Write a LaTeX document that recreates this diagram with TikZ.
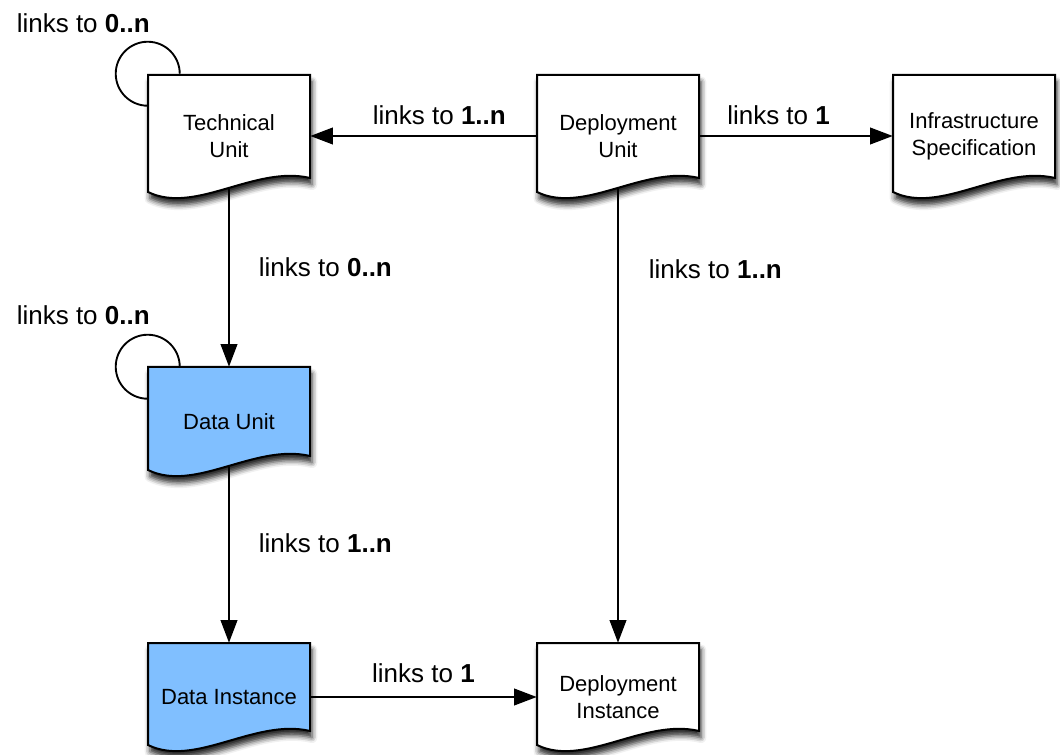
\documentclass[tikz,border=0pt]{standalone}
\usepackage{fontspec}
\setmainfont{Liberation Sans}
\usetikzlibrary{arrows.meta,shadows.blur}
\definecolor{unitblue}{RGB}{128,191,255}
\tikzset{
  docshape/.style={draw=black, line width=1.5pt, fill=white,
    blur shadow={shadow xshift=1.5pt, shadow yshift=-5pt, shadow blur radius=4pt, shadow opacity=85}},
  doctext/.style={inner sep=0pt, align=center, minimum width=121.5pt, font=\fontsize{16.5}{20.25}\selectfont},
  link/.style={line width=1.4pt, draw opacity=1, fill opacity=1,
    -{Triangle[length=17pt,width=12.5pt,fill=black]}},
  downlink/.style={link, shorten <=-7pt},
  loopline/.style={line width=1.4pt, draw opacity=1},
  lbl/.style={inner sep=0pt, font=\fontsize{19.5}{23}\selectfont},
}

\begin{document}
\begin{tikzpicture}[x=0.75pt,y=0.75pt,yscale=-1,xscale=1]
\useasboundingbox (0,0) rectangle (1060,755);

%Document: Technical Unit
\draw[docshape] (148,75) -- (310,75) -- (310,178) .. controls (255,165) and (195,215) .. (148,192) -- cycle;
%Document: Deployment Unit
\draw[docshape] (537,75) -- (699,75) -- (699,178) .. controls (644,165) and (584,215) .. (537,192) -- cycle;
%Document: Infrastructure Specification
\draw[docshape] (893,75) -- (1055,75) -- (1055,178) .. controls (1000,165) and (940,215) .. (893,192) -- cycle;
%Document: Data Unit
\draw[docshape, fill=unitblue] (148,367) -- (310,367) -- (310,456) .. controls (255,443) and (195,493) .. (148,470) -- cycle;
%Document: Data Instance
\draw[docshape, fill=unitblue] (148,643) -- (310,643) -- (310,731) .. controls (255,718) and (195,768) .. (148,745) -- cycle;
%Document: Deployment Instance
\draw[docshape] (537,643) -- (699,643) -- (699,731) .. controls (644,718) and (584,768) .. (537,745) -- cycle;

% Text Nodes
\node[doctext, minimum height=93pt] (tech) at (229,136) {Technical\\Unit};
\node[doctext, minimum height=93pt] (dep) at (618,136) {Deployment\\Unit};
\node[doctext, minimum height=93pt] (infra) at (974,136) {Infrastructure\\Specification};
\node[doctext, minimum height=81.75pt] (dunit) at (229,421.5) {Data Unit};
\node[doctext, minimum height=81pt] (dinst) at (229,697) {Data Instance};
\node[doctext, minimum height=81pt] (depinst) at (618,697) {Deployment\\Instance};

% Loop labels
\node[lbl, anchor=base east] (techloop) at (150,33) {links to \textbf{0..n}};
\node[lbl, anchor=base east] (dunitloop) at (150,325) {links to \textbf{0..n}};

% Self loops
\draw[loopline] ([xshift=24pt]tech.north west) arc[start angle=0, end angle=-270, radius=32];
\draw[loopline] ([xshift=24pt]dunit.north west) arc[start angle=0, end angle=-270, radius=32];

% Links
\draw[link] (dep.west) -- node[lbl, pos=0.43, anchor=south, inner ysep=8pt] {links to \textbf{1..n}} (tech.east);
\draw[link] (dep.east) -- node[lbl, pos=0.41, anchor=south, inner ysep=8pt] {links to \textbf{1}} (infra.west);
\draw[downlink] (tech.south) -- node[lbl, pos=0.41, anchor=west, inner xsep=21.75pt] {links to \textbf{0..n}} (dunit.north);
\draw[downlink] (dep.south) -- node[lbl, pos=0.16, anchor=west, inner xsep=22.5pt] {links to \textbf{1..n}} (depinst.north);
\draw[downlink] (dunit.south) -- node[lbl, pos=0.4, anchor=west, inner xsep=21.75pt] {links to \textbf{1..n}} (dinst.north);
\draw[link] (dinst.east) -- node[lbl, pos=0.5, anchor=south, inner ysep=10pt] {links to \textbf{1}} (depinst.west);

\end{tikzpicture}
\end{document}
